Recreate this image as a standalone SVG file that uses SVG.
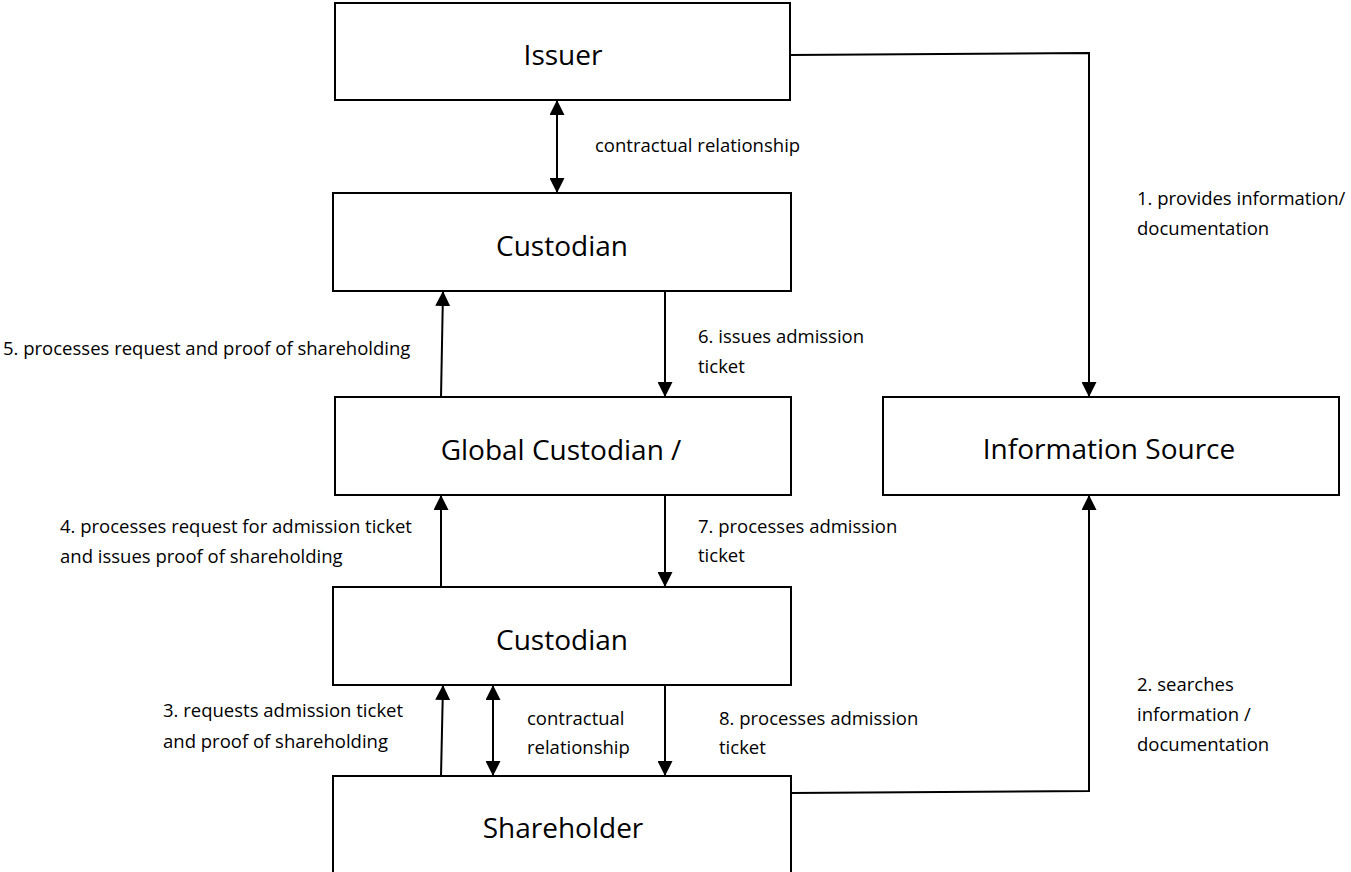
<svg xmlns="http://www.w3.org/2000/svg" width="1351" height="872" viewBox="0 0 1351 872">
<style>
.box{fill:#fff;stroke:#000;stroke-width:2}
.ln{fill:none;stroke:#000;stroke-width:2}
.t{font-family:"Open Sans","Liberation Sans",sans-serif;font-size:28px;fill:#000;text-anchor:middle}
.s{font-family:"Open Sans","Liberation Sans",sans-serif;font-size:18.5px;fill:#000}
</style>
<defs>
<marker id="ah" viewBox="0 0 10 10" refX="10" refY="5" markerWidth="15" markerHeight="15" markerUnits="userSpaceOnUse" orient="auto-start-reverse">
<path d="M0,0 L10,5 L0,10 Z" fill="#000"/>
</marker>
</defs>
<g id="issuer"><rect class="box" x="335" y="3" width="455" height="97"/><text class="t" x="563" y="65">Issuer</text></g>
<g id="custodian1"><rect class="box" x="333" y="193" width="458" height="98"/><text class="t" x="562" y="256">Custodian</text></g>
<g id="global"><rect class="box" x="335" y="397" width="456" height="98"/><text class="t" x="561" y="460">Global Custodian /</text></g>
<g id="info"><rect class="box" x="883" y="397" width="456" height="98"/><text class="t" x="1109" y="459">Information Source</text></g>
<g id="custodian2"><rect class="box" x="333" y="587" width="458" height="98"/><text class="t" x="562" y="650">Custodian</text></g>
<g id="shareholder"><rect class="box" x="333" y="776" width="458" height="110"/><text class="t" x="563" y="838">Shareholder</text></g>
<g id="connectors">
<path class="ln" d="M790,55 L1089,53 L1089,397" marker-end="url(#ah)"/>
<path class="ln" d="M557,100 L557,193" marker-start="url(#ah)" marker-end="url(#ah)"/>
<path class="ln" d="M441,397 L443,291" marker-end="url(#ah)"/>
<path class="ln" d="M665,291 L665,397" marker-end="url(#ah)"/>
<path class="ln" d="M441,587 L441,495" marker-end="url(#ah)"/>
<path class="ln" d="M665,495 L665,587" marker-end="url(#ah)"/>
<path class="ln" d="M441,776 L443,685" marker-end="url(#ah)"/>
<path class="ln" d="M493,685 L493,776" marker-start="url(#ah)" marker-end="url(#ah)"/>
<path class="ln" d="M665,685 L665,776" marker-end="url(#ah)"/>
<path class="ln" d="M791,793 L1089,791 L1089,495" marker-end="url(#ah)"/>
</g>
<g id="labels">
<text class="s" x="595" y="152">contractual relationship</text>
<text class="s" x="1137" y="205">1. provides information/</text>
<text class="s" x="1137" y="235">documentation</text>
<text class="s" x="3" y="355">5. processes request and proof of shareholding</text>
<text class="s" x="698" y="343">6. issues admission</text>
<text class="s" x="698" y="373">ticket</text>
<text class="s" x="60" y="533">4. processes request for admission ticket</text>
<text class="s" x="60" y="563">and issues proof of shareholding</text>
<text class="s" x="698" y="533">7. processes admission</text>
<text class="s" x="698" y="562">ticket</text>
<text class="s" x="163" y="717">3. requests admission ticket</text>
<text class="s" x="163" y="748">and proof of shareholding</text>
<text class="s" x="527" y="725">contractual</text>
<text class="s" x="527" y="754">relationship</text>
<text class="s" x="719" y="725">8. processes admission</text>
<text class="s" x="719" y="754">ticket</text>
<text class="s" x="1137" y="691">2. searches</text>
<text class="s" x="1137" y="721">information /</text>
<text class="s" x="1137" y="751">documentation</text>
</g>
</svg>
